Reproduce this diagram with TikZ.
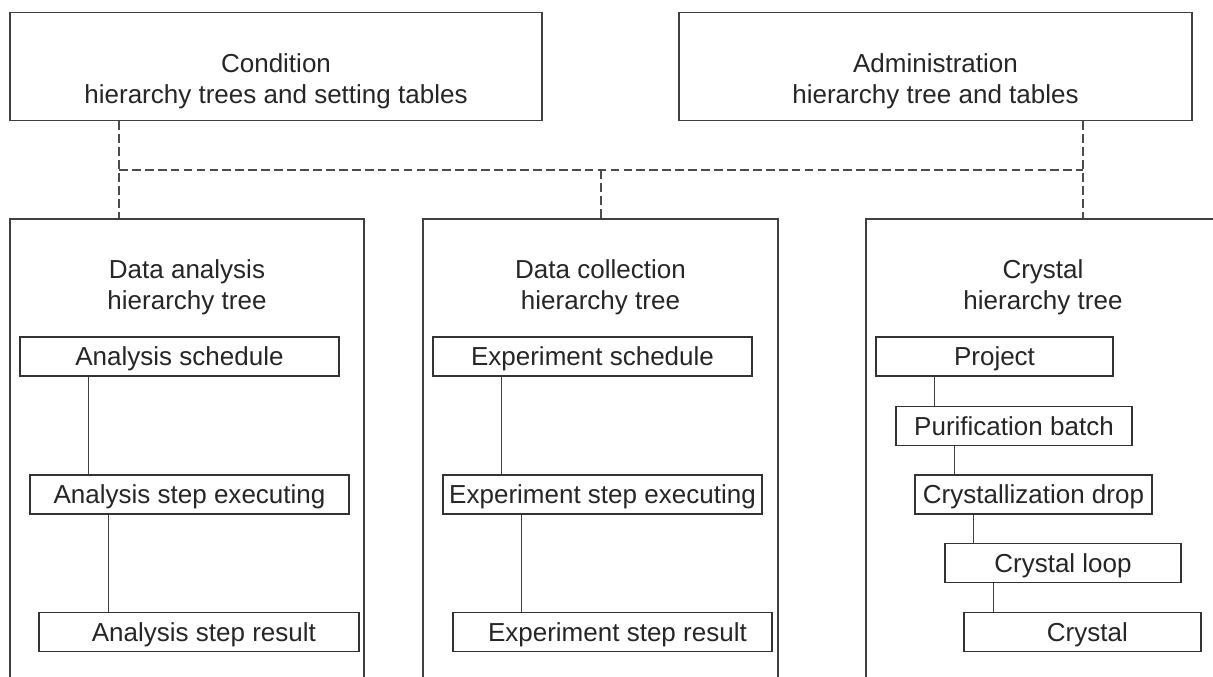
\documentclass[tikz,border=0pt]{standalone}
\usepackage{fontspec}
\setmainfont{Liberation Sans}
\usetikzlibrary{calc}
\newcommand\dfs{\fontsize{18.5}{21.7}\selectfont}
\tikzset{
  every node/.style={text=black!85},
  bigbox/.style={draw=black!75, line width=0.9pt, inner sep=0pt},
  leaf/.style={draw=black!80, line width=0.9pt, inner sep=0pt, minimum height=0.975cm,
    text height=13.5pt, text depth=0pt, font=\dfs},
  title/.style={align=center, inner sep=0pt, font=\dfs},
  dashline/.style={draw=black!70, line width=0.9pt, dash pattern=on 6.2pt off 3pt},
  tieline/.style={draw=black!75, line width=0.9pt},
}
\newcommand\tie[3]{%
  \coordinate (tmp) at ($(#1.south west)+(#3,0)$);
  \draw[tieline] (tmp) -- (tmp |- #2.north);}
\begin{document}
\begin{tikzpicture}[x=0.025cm, y=-0.025cm]
\useasboundingbox (0,0) rectangle (1213,677);
\clip (0,0) rectangle (1213,677);
\fill[white] (0,0) rectangle (1213,677);

% top boxes
\node[bigbox, minimum width=13.3cm, minimum height=2.7cm] (cond) at (276,66.7) {};
\node[title] (condt) at (276,81.5) {Condition\\hierarchy trees and setting tables};
\node[bigbox, minimum width=12.825cm, minimum height=2.7cm] (admin) at (935.5,66.7) {};
\node[title] (admint) at (935.5,81.5) {Administration\\hierarchy tree and tables};

% lower big boxes (open beyond the picture)
\node[bigbox, minimum width=8.85cm, minimum height=12.5cm] (da) at (187,469) {};
\node[bigbox, minimum width=8.875cm, minimum height=12.5cm] (dc) at (600.5,469) {};
\node[bigbox, minimum width=9.85cm, minimum height=12.5cm] (cy) at (1063,469) {};

\node[title] (dat) at (187,287.5) {Data analysis\\hierarchy tree};
\node[title] (dct) at (600.5,287.5) {Data collection\\hierarchy tree};
\node[title] (cyt) at (1043,287.5) {Crystal\\hierarchy tree};

% dashed connections
\coordinate (jl) at (119,170);
\coordinate (jm) at (601,170);
\coordinate (jr) at (1083,170);
\draw[dashline] (cond.south -| jl) -- (da.north -| jl);
\draw[dashline] (jl) -- (jr);
\draw[dashline] (jm) -- (dc.north -| jm);
\draw[dashline] (admin.south -| jr) -- (cy.north -| jr);

% data analysis tree
\node[leaf, minimum width=7.975cm] (as) at (179.5,356.5) {Analysis schedule};
\node[leaf, minimum width=7.975cm] (ase) at (189.5,494.5) {Analysis step executing};
\node[leaf, minimum width=8cm] (asr) at (199,632) {\hspace{7pt}Analysis step result};
\tie{as}{ase}{69}
\tie{ase}{asr}{79}

% data collection tree
\node[leaf, minimum width=7.975cm] (es) at (592.5,356.5) {Experiment schedule};
\node[leaf, minimum width=7.975cm] (ese) at (602.5,494.5) {Experiment step executing};
\node[leaf, minimum width=7.975cm] (esr) at (612.5,632) {\hspace{7pt}Experiment step result};
\tie{es}{ese}{69}
\tie{ese}{esr}{79}

% crystal tree
\node[leaf, minimum width=5.925cm] (pj) at (994.5,356.5) {Project};
\node[leaf, minimum width=5.9cm] (pb) at (1014,426) {Purification batch};
\node[leaf, minimum width=5.925cm] (cd) at (1033.5,494.5) {Crystallization drop};
\node[leaf, minimum width=5.9cm] (cl) at (1063,563) {Crystal loop};
\node[leaf, minimum width=5.925cm] (cr) at (1082.5,632) {\hspace{7pt}Crystal};
\tie{pj}{pb}{59}
\tie{pb}{cd}{59}
\tie{cd}{cl}{59}
\tie{cl}{cr}{49}
\end{tikzpicture}
\end{document}
